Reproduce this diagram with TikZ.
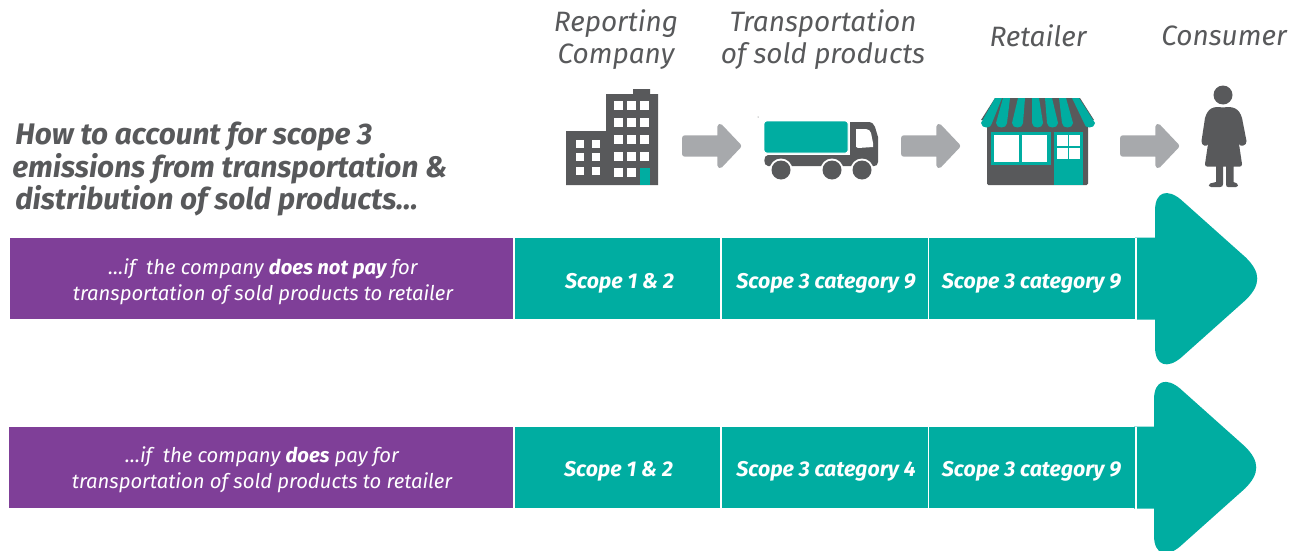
\documentclass[tikz,border=0pt]{standalone}
\usepackage{fontspec}
\setmainfont{Fira Sans}
\definecolor{teal1}{HTML}{00ADA1}
\definecolor{purp}{HTML}{7F3F98}
\definecolor{dgray}{HTML}{58595B}
\definecolor{lgray}{HTML}{A7A9AC}
\tikzset{
 head/.style={font=\fontsize{21}{24}\selectfont\itshape,text=dgray,align=center,anchor=center},
 title/.style={font=\fontsize{22.3}{24}\selectfont\itshape\bfseries,text=dgray,anchor=west,inner sep=0pt},
 band/.style={fill=teal1,draw=none},
 side/.style={fill=purp,draw=none,minimum height=60.75pt,inner sep=0pt,anchor=north west,minimum width=378pt},
 sidetxt/.style={font=\fontsize{15.2}{19.5}\selectfont\itshape,text=white,align=center},
 cell/.style={font=\fontsize{16}{18}\selectfont\itshape\bfseries,text=white},
 sep/.style={draw=white,line width=1pt},
 flow/.style={fill=lgray,draw=lgray,line width=4pt,line join=round},
 bigarrow/.style={fill=teal1,draw=none},
 icon/.style={fill=dgray,draw=none},
 win/.style={fill=white,draw=none},
}
\newcommand{\flowarrow}[2]{%
 \begin{scope}[shift={(#1,#2)}]
  \filldraw[flow] (2.7,-8) -- (38,-8) -- (38,-19.5) -- (56.5,0) -- (38,19.5) -- (38,8) -- (2.7,8) -- cycle;
 \end{scope}}
\newcommand{\bigarr}[2]{%
 \begin{scope}[shift={(#1,#2)}]
  \fill[bigarrow] (0,-41) -- (20,-41) -- (20,-68)
   .. controls (20,-88) and (33,-90) .. (46,-79)
   -- (111,-21) .. controls (126,-6) and (126,6) .. (111,21)
   -- (46,79) .. controls (33,90) and (20,88) .. (20,68)
   -- (20,41) -- (0,41) -- cycle;
 \end{scope}}
\begin{document}
\begin{tikzpicture}[x=0.75pt,y=-0.75pt]
\useasboundingbox (0,0) rectangle (1299,550);
\clip (0,0) rectangle (1299,550);
% header
\node[head] (h1) at (616,40) {Reporting\\Company};
\node[head] (h2) at (823,40) {Transportation\\of sold products};
\node[head] (h3) at (1038,36) {Retailer};
\node[head] (h4) at (1224,36) {Consumer};
% title
\node[title] (t1) at (15,136.5) {How to account for scope 3};
\node[title] (t2) at (12,168.5) {emissions from transportation \&};
\node[title] (t3) at (15,200.5) {distribution of sold products…};
% building
\fill[icon] (566,131) -- (606,131) -- (606,94) -- (633,94) -- (633,89) -- (650,89) -- (650,94) -- (658,94) -- (658,185) -- (566,185) -- cycle;
\foreach \x in {614,627,640} \foreach \y in {101,118,135,152} \fill[win] (\x,\y) rectangle ++(9,9);
\foreach \x in {614,627} \fill[win] (\x,168) rectangle ++(9,9);
\foreach \x in {576,592} \foreach \y in {140,153,167} \fill[win] (\x,\y) rectangle ++(8,8);
\fill[teal1] (640,168) rectangle (650,185);
% truck
\fill[icon] (850,122) -- (868,122) .. controls (872,122) and (874,124) .. (875,127)
 -- (878,137) -- (878,162) .. controls (878,165) and (876,166) .. (874,166) -- (768,166)
 .. controls (763,166) and (763,155) .. (768,155) -- (850,155) -- cycle;
\fill[win] (856,129) -- (866,129) .. controls (869,129) and (870,131) .. (871,133) -- (873,143) -- (873,147) -- (858,148) .. controls (856,148) and (856,146) .. (856,145) -- cycle;
\fill[teal1,draw=white,line width=.6pt,rounded corners=2pt] (764,121) rectangle (848,153);
\foreach \x in {781,832,862}{\fill[white] (\x,170) circle (11.5);\fill[icon] (\x,170) circle (9.5);}
\fill[icon] (758,117) circle (.5);
% store
\fill[icon,rounded corners=1pt] (987,120) rectangle (1088,185);
\fill[teal1] (991,132) rectangle (1051,164.5);
\fill[win] (994,135) rectangle (1019,162);
\fill[win] (1022,135) rectangle (1047,162);
\fill[teal1] (1053.5,132) rectangle (1083,185);
\foreach \x/\y in {1057/135,1069/135,1057/148,1069/148}\fill[win] (\x,\y) rectangle ++(10.5,10.5);
\fill[icon] (995,98) -- (1080,98) -- (1094,120) -- (981,120) -- cycle;
\foreach \a/\b in {998/986,1006/1001,1021/1017,1035/1037,1048/1052,1062/1067,1075/1089}{%
 \fill[teal1] (\a-3,98) -- (\a+4,98) -- (\b+6,123) .. controls (\b+6,129) and (\b-5,129) .. (\b-5,123) -- cycle;}
% person
\fill[icon] (1223,95) circle (9.5);
\fill[icon] (1223,107.5) .. controls (1233,106) and (1239,108) .. (1242,118) -- (1246.5,141)
 .. controls (1247,146) and (1240,147) .. (1239,144) -- (1242,164)
 .. controls (1242,166) and (1241,166.5) .. (1240,166.5) -- (1233.5,166.5) -- (1233.5,182) -- (1237,183.5)
 .. controls (1239,185) and (1238,187) .. (1236,187) -- (1228,187) .. controls (1226.5,187) and (1226,186) .. (1226,184) -- (1226,166.5)
 -- (1223,166.5) -- (1223,184) .. controls (1223,186) and (1222,187) .. (1220,187) -- (1211,187) .. controls (1208.5,187) and (1208,185) .. (1210,183.5) -- (1216,182) -- (1216,166.5) -- (1207,166.5)
 .. controls (1206,166.5) and (1205,166) .. (1205,164) -- (1208,144)
 .. controls (1207,147) and (1201,146) .. (1201.5,141) -- (1205,118) .. controls (1208,108) and (1213,106) .. (1223,107.5) -- cycle;
% flow arrows
\flowarrow{682}{146}
\flowarrow{901}{146}
\flowarrow{1120}{146}
% row 1
\node[side] (p1) at (10,238) {};
\fill[band] (514,238) rectangle (1137,319);
\bigarr{1135}{278.7}
\foreach \x in {514,721,928.5,1136} \draw[sep] (\x,238) -- (\x,319.5);
\node[sidetxt] (s1) at (263,281.5) {…if~~the company \textbf{does not pay} for\\transportation of sold products to retailer};
\node[cell] (c11) at (619.5,283.5) {Scope 1 \& 2};
\node[cell] (c12) at (826,283.5) {Scope 3 category 9};
\node[cell] (c13) at (1031.5,283.5) {Scope 3 category 9};
% row 2
\node[side] (p2) at (9,427) {};
\fill[band] (514,427) rectangle (1137,508);
\bigarr{1134}{467.5}
\foreach \x in {514,721,928.5,1136} \draw[sep] (\x,427) -- (\x,508.5);
\node[sidetxt] (s2) at (262,469.5) {…if~~the company \textbf{does} pay for\\transportation of sold products to retailer};
\node[cell] (c21) at (618.5,471.5) {Scope 1 \& 2};
\node[cell] (c22) at (826,471.5) {Scope 3 category 4};
\node[cell] (c23) at (1031.5,471.5) {Scope 3 category 9};
\end{tikzpicture}
\end{document}
